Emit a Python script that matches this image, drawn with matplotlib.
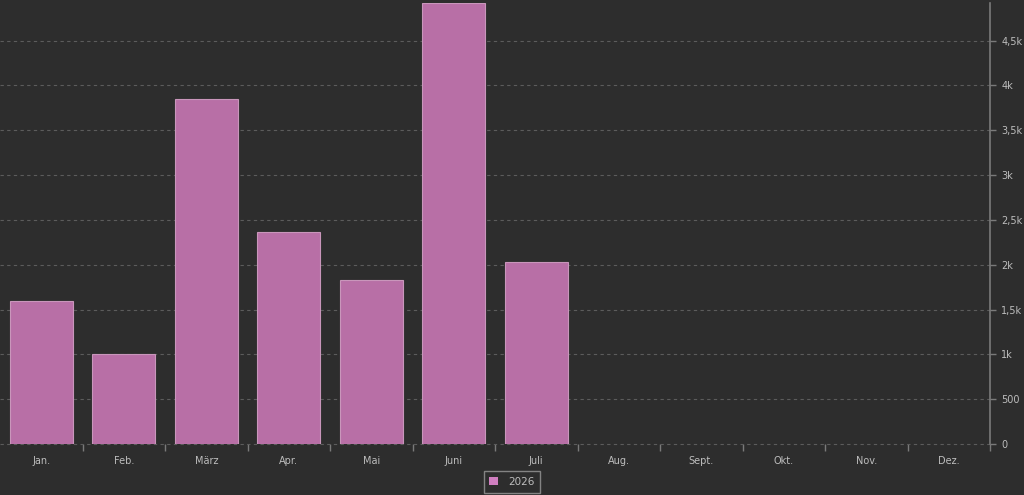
import matplotlib.pyplot as plt
import numpy as np

# Data
#---------------------------
months = ["Jan.", "Feb.", "März", "Apr.", "Mai", "Juni", "Juli",
          "Aug.", "Sept.", "Okt.", "Nov.", "Dez."]
values_2026 = [1590, 1000, 3850, 2360, 1830, 4920, 2030, 0, 0, 0, 0, 0]
y_ticks = [0, 500, 1000, 1500, 2000, 2500, 3000, 3500, 4000, 4500]
y_tick_labels = ["0", "500", "1k", "1,5k", "2k", "2,5k", "3k", "3,5k", "4k", "4,5k"]
series_name = "2026"

# Colours
#---------------------------
bg = "#2d2d2d"
bar_face = "#b86fa6"
bar_edge = "#c996bb"
text_col = "#bdbdbd"
grid_col = "#5c5c5c"
axis_col = "#7a7a7a"

fig = plt.figure(figsize=(10.24, 4.95), dpi=100, facecolor=bg)
ax = fig.add_axes([0.0, 51 / 495, 990 / 1024, (444 - 3) / 495])
ax.set_facecolor(bg)

x = np.arange(len(months))
bars = ax.bar(x, values_2026, width=0.76, color=bar_face, edgecolor=bar_edge,
              linewidth=0.8, label=series_name, zorder=3)
for b, v in zip(bars, values_2026):
    if v == 0:
        b.set_linewidth(0)

ax.set_xlim(-0.5, len(months) - 0.5)
ax.set_ylim(0, max(values_2026))

# y axis on the right
ax.yaxis.tick_right()
ax.set_yticks(y_ticks)
ax.set_yticklabels(y_tick_labels)
ax.tick_params(axis="y", colors=axis_col, labelcolor=text_col, labelsize=7,
               length=4, width=1, pad=4)
ax.grid(axis="y", color=grid_col, linestyle=(0, (3, 3)), linewidth=0.8, zorder=0)
for gl in ax.get_ygridlines():
    gl.set_clip_on(False)

# x axis: labels centred, ticks between categories
ax.set_xticks(x)
ax.set_xticklabels(months)
ax.set_xticks(np.arange(1, len(months) + 1) - 0.5, minor=True)
ax.tick_params(axis="x", which="major", length=0, labelcolor=text_col,
               labelsize=7, pad=9)
ax.tick_params(axis="x", which="minor", length=5, width=1, color=axis_col)

for side in ["top", "left", "bottom"]:
    ax.spines[side].set_visible(False)
ax.spines["right"].set_color(axis_col)
ax.spines["right"].set_linewidth(1.2)

leg = fig.legend(loc="lower center", bbox_to_anchor=(0.5, -0.006), frameon=True,
                 fontsize=7.5, handlelength=0.8, handleheight=0.8,
                 borderpad=0.55, handletextpad=1.0, fancybox=False)
leg.get_frame().set_facecolor(bg)
leg.get_frame().set_edgecolor("#9a9a9a")
leg.get_frame().set_linewidth(1)
for t in leg.get_texts():
    t.set_color(text_col)
leg.legend_handles[0].set_facecolor("#d07fc0")
leg.legend_handles[0].set_edgecolor("#d07fc0")
leg.legend_handles[0].set_linewidth(0)

fig.savefig("out.png", dpi=100, facecolor=bg)
